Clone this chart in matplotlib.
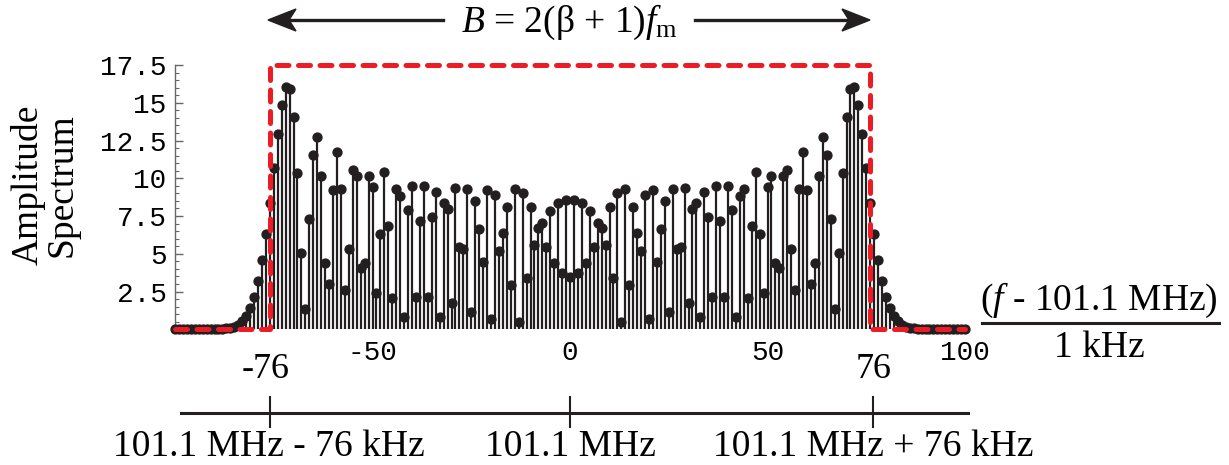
import numpy as np
import matplotlib
matplotlib.use("Agg")
from matplotlib import pyplot as plt
from matplotlib.lines import Line2D
from matplotlib.patches import Polygon

plt.rcParams['mathtext.fontset'] = 'custom'
plt.rcParams['mathtext.rm'] = 'Liberation Serif'
plt.rcParams['mathtext.it'] = 'Liberation Serif:italic'

# amplitude for n = 0..100 (spectrum is mirrored for n < 0)
amp_right = [
    3.49, 8.54, 3.71, 8.34, 4.37, 7.86, 5.43, 7.02, 6.69, 5.58,
    8.08, 3.38, 9.05, 0.50, 9.27, 2.93, 8.08, 6.36, 5.19, 8.89,
    0.66, 9.22, 4.48, 6.62, 8.52, 1.15, 9.29, 5.32, 5.43, 9.38,
    1.76, 7.95, 8.34, 0.84, 9.07, 7.42, 2.16, 9.49, 7.17, 2.16,
    9.49, 7.90, 0.84, 8.83, 9.29, 2.09, 6.84, 10.44, 6.29, 2.43,
    9.40, 10.15, 4.41, 4.04, 10.15, 10.55, 5.30, 2.60, 9.29, 11.76,
    9.22, 2.98, 4.37, 10.15, 12.76, 11.54, 7.28, 1.32, 5.03, 10.33,
    14.08, 15.89, 16.07, 14.85, 12.93, 10.66, 8.34, 6.31, 4.60, 3.20,
    2.16, 1.39, 0.88, 0.52, 0.30, 0.18, 0.10, 0.06, 0.03, 0.02,
    0.01, 0.01, 0.0, 0.0, 0.0, 0.0, 0.0, 0.0, 0.0, 0.0, 0.0,
]
n = np.arange(-100, 101)
amp = np.concatenate([amp_right[:0:-1], amp_right])

# bandwidth box (carson's rule)
box_x = [-100, -76, -76, 76, 76, 100]
box_y = [0, 0, 17.5, 17.5, 0, 0]

yticks = [2.5, 5, 7.5, 10, 12.5, 15, 17.5]
ytick_labels = ['2.5', '5', '7.5', '10', '12.5', '15', '17.5']
xticks = [-50, 0, 50, 100]
xtick_labels = ['-50', '0', '50', '100']

ink = '#231f20'
red = '#ed1c24'
serif = 'Liberation Serif'
mono = 'Liberation Mono'

W, H = 1229, 465
fig = plt.figure(figsize=(W / 100, H / 100), dpi=100)

def fx(px):
    return px / W

def fy(py):
    return 1 - py / H

ax = fig.add_axes([fx(175), fy(329.3), 790 / W, 264.3 / H])
ax.set_xlim(-100, 100)
ax.set_ylim(0, 17.5)

ax.axhline(0, color='#777777', lw=0.8, zorder=1)
ax.vlines(n, 0, amp, color=ink, lw=1.6, zorder=2)
ax.plot(n, amp, 'o', ms=6.4, color=ink, clip_on=False, zorder=3)
ax.plot(box_x, box_y, color=red, lw=3.6, ls=(0, (2.4, 1.9)),
        dash_capstyle='round', solid_capstyle='round', clip_on=False, zorder=4)

for s in ['top', 'right', 'bottom']:
    ax.spines[s].set_visible(False)
ax.spines['left'].set_color('#666666')
ax.spines['left'].set_linewidth(1.0)

ax.set_yticks(yticks)
ax.set_yticklabels(ytick_labels, family=mono, fontsize=20)
ax.set_yticks(np.arange(0, 17.51, 0.5), minor=True)
ax.tick_params(axis='y', which='major', direction='in', length=6, width=1,
               color='#666666', pad=6)
ax.tick_params(axis='y', which='minor', direction='in', length=3, width=0.8,
               color='#666666')
ax.set_xticks(xticks)
ax.set_xticklabels(xtick_labels, family=mono, fontsize=20)
ax.tick_params(axis='x', length=0, pad=8)

fig.text(fx(45), fy(185), "Amplitude\nSpectrum", rotation=90, ha='center',
         va='center', family=serif, fontsize=27, linespacing=1.0)

# frequency axis label on the right
fig.text(fx(1099), fy(300), r"($f$ - 101.1 MHz)", ha='center', va='center',
         family=serif, fontsize=27)
fig.add_artist(Line2D([fx(982), fx(1219)], [fy(323), fy(323)], color=ink, lw=2.2))
fig.text(fx(1099), fy(348), "1 kHz", ha='center', va='center',
         family=serif, fontsize=27)

# bandwidth arrow on top
ya = 20
fig.text(fx(569), fy(22), r"$B$ = 2(β + 1)$f_{\mathrm{m}}$", ha='center',
         va='center', family=serif, fontsize=27)
fig.add_artist(Line2D([fx(285), fx(443)], [fy(ya), fy(ya)], color=ink, lw=2.4))
fig.add_artist(Line2D([fx(695), fx(853)], [fy(ya), fy(ya)], color=ink, lw=2.4))
for tip, d in [(268, 1), (870, -1)]:
    pts = [(tip, ya), (tip + d * 28, ya - 11), (tip + d * 21, ya), (tip + d * 28, ya + 11)]
    fig.add_artist(Polygon([(fx(x), fy(y)) for x, y in pts], closed=True,
                           color=ink, transform=fig.transFigure))

# carrier +/- deviation scale
fig.text(fx(266), fy(370), "-76", ha='center', va='center', family=serif, fontsize=26)
fig.text(fx(874), fy(370), "76", ha='center', va='center', family=serif, fontsize=26)
fig.add_artist(Line2D([fx(181), fx(968)], [fy(413), fy(413)], color=ink, lw=2.2))
for xp in [270, 570, 873]:
    fig.add_artist(Line2D([fx(xp), fx(xp)], [fy(397), fy(427)], color=ink, lw=1.5))
fig.text(fx(269), fy(447), "101.1 MHz - 76 kHz", ha='center', va='center',
         family=serif, fontsize=27)
fig.text(fx(570), fy(447), "101.1 MHz", ha='center', va='center',
         family=serif, fontsize=27)
fig.text(fx(873), fy(447), "101.1 MHz + 76 kHz", ha='center', va='center',
         family=serif, fontsize=27)

fig.savefig("out.png", dpi=100)
